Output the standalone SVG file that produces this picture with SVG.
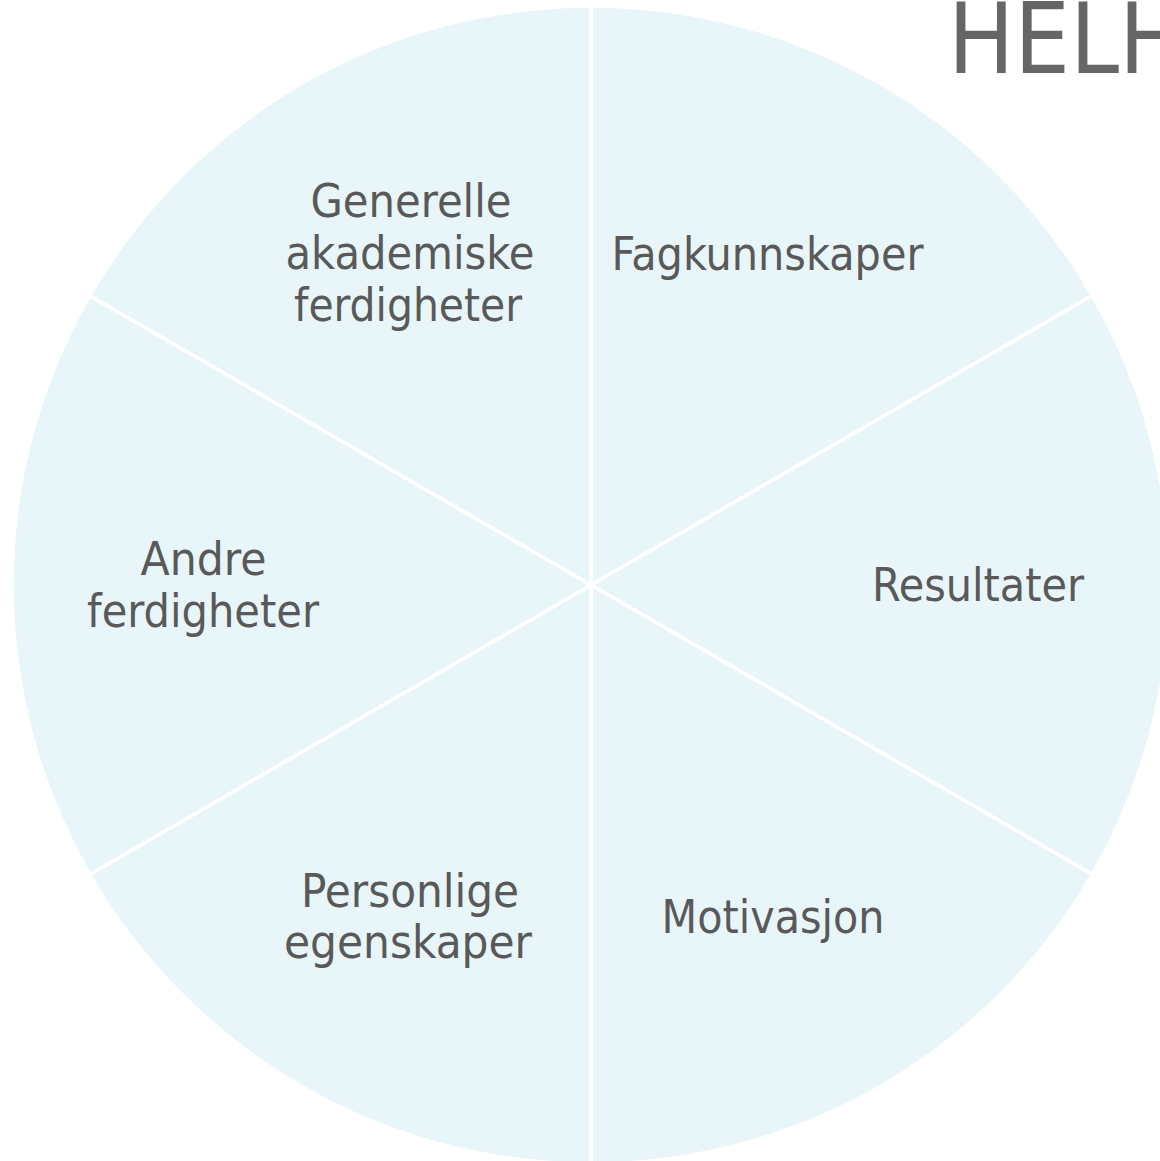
<svg xmlns="http://www.w3.org/2000/svg" width="1160" height="1161" viewBox="0 0 1160 1161">
<style>
.sec{fill:#E8F6FA;stroke:#FFFFFF;stroke-width:3.5;stroke-linejoin:miter}
.lbl{font-family:"DejaVu Sans Condensed","DejaVu Sans",sans-serif;font-size:47px;fill:#595959;text-anchor:middle}
.title{font-family:"DejaVu Sans Condensed","DejaVu Sans",sans-serif;font-size:98px;fill:#666666}
</style>
<rect width="1160" height="1161" fill="#FFFFFF"/>
<g id="sector-fagkunnskaper"><path class="sec" d="M591,585 L591,6 A579,579 0 0 1 1092.4,295.5 Z"/>
<text class="lbl" x="767.5" y="270" textLength="312" lengthAdjust="spacingAndGlyphs">Fagkunnskaper</text></g>
<g id="sector-resultater"><path class="sec" d="M591,585 L1092.4,295.5 A579,579 0 0 1 1092.4,874.5 Z"/>
<text class="lbl" x="978" y="601" textLength="212" lengthAdjust="spacingAndGlyphs">Resultater</text></g>
<g id="sector-motivasjon"><path class="sec" d="M591,585 L1092.4,874.5 A579,579 0 0 1 591,1164 Z"/>
<text class="lbl" x="773" y="933" textLength="223" lengthAdjust="spacingAndGlyphs">Motivasjon</text></g>
<g id="sector-personlige"><path class="sec" d="M591,585 L591,1164 A579,579 0 0 1 89.6,874.5 Z"/>
<text class="lbl" x="410" y="907" textLength="218" lengthAdjust="spacingAndGlyphs">Personlige</text>
<text class="lbl" x="408" y="958" textLength="248" lengthAdjust="spacingAndGlyphs">egenskaper</text></g>
<g id="sector-andre"><path class="sec" d="M591,585 L89.6,874.5 A579,579 0 0 1 89.6,295.5 Z"/>
<text class="lbl" x="203.5" y="575" textLength="126" lengthAdjust="spacingAndGlyphs">Andre</text>
<text class="lbl" x="203" y="627" textLength="232" lengthAdjust="spacingAndGlyphs">ferdigheter</text></g>
<g id="sector-generelle"><path class="sec" d="M591,585 L89.6,295.5 A579,579 0 0 1 591,6 Z"/>
<text class="lbl" x="411" y="217" textLength="201" lengthAdjust="spacingAndGlyphs">Generelle</text>
<text class="lbl" x="410" y="269" textLength="249" lengthAdjust="spacingAndGlyphs">akademiske</text>
<text class="lbl" x="408" y="321" textLength="228" lengthAdjust="spacingAndGlyphs">ferdigheter</text></g>
<g id="connectors"></g>
<g id="title"><text class="title" x="948" y="73">HELH</text></g>
</svg>
